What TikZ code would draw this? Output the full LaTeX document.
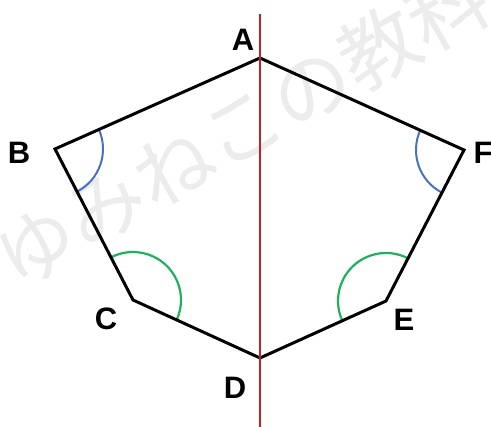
\documentclass[tikz,border=0pt]{standalone}
\usepackage{fontspec}
\setmainfont{Liberation Sans}
\newfontfamily\jpfont{Noto Sans CJK JP}
\usepackage{xcolor}
\usetikzlibrary{angles}

\definecolor{axisred}{RGB}{192,32,38}
\definecolor{arcblue}{RGB}{72,112,196}
\definecolor{arcgreen}{RGB}{30,178,92}
\definecolor{markgray}{RGB}{236,236,236}

\begin{document}
\begin{tikzpicture}[x=1pt, y=1pt,
    vlabel/.style={font=\fontsize{31}{31}\selectfont\bfseries, inner sep=0pt},
    bluearc/.style={draw=arcblue, line width=2pt, angle radius=48pt},
    greenarc/.style={draw=arcgreen, line width=2.2pt, angle radius=48pt}]
  \useasboundingbox (0,0) rectangle (491,427);

  % watermark
  \node[text=markgray, rotate=30, font=\jpfont\fontsize{79}{79}\selectfont] (mark) at (242,300) {ゆみねこの教科};

  % vertices
  \coordinate (A) at (260,369);
  \coordinate (B) at (55,278);
  \coordinate (C) at (133,127);
  \coordinate (D) at (260,69);
  \coordinate (E) at (386,126);
  \coordinate (F) at (464,277);

  % angle marks
  \pic[bluearc] {angle = C--B--A};
  \pic[bluearc] {angle = A--F--E};
  \pic[greenarc] {angle = D--C--B};
  \pic[greenarc] {angle = F--E--D};

  % hexagon
  \draw[line width=3pt, line join=miter] (A) -- (B) -- (C) -- (D) -- (E) -- (F) -- cycle;

  % axis of symmetry
  \coordinate (top) at (260,413);
  \coordinate (bot) at (260,0);
  \draw[axisred, line width=2.6pt] (top) -- (bot);

  % labels
  \node[vlabel] (la) at (243,387) {A};
  \node[vlabel] (lb) at (19,274) {B};
  \node[vlabel] (lc) at (106,108) {C};
  \node[vlabel] (ld) at (235,39) {D};
  \node[vlabel] (le) at (404,107) {E};
  \node[vlabel] (lf) at (483,274) {F};
\end{tikzpicture}
\end{document}
